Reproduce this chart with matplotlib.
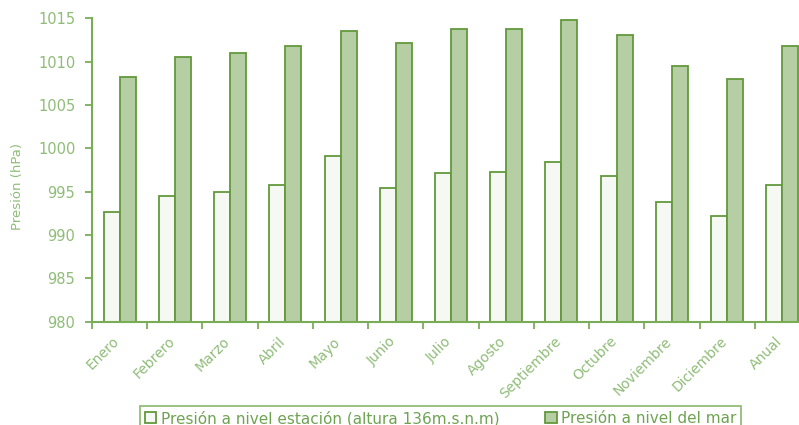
import numpy as np
import matplotlib.pyplot as plt
from matplotlib.transforms import ScaledTranslation

# monthly pressure values (hPa)
meses = ['Enero', 'Febrero', 'Marzo', 'Abril', 'Mayo', 'Junio', 'Julio',
         'Agosto', 'Septiembre', 'Octubre', 'Noviembre', 'Diciembre', 'Anual']
estacion = [992.6, 994.5, 995.0, 995.75, 999.1, 995.4, 997.1,
            997.25, 998.4, 996.8, 993.8, 992.2, 995.75]
mar = [1008.2, 1010.5, 1010.95, 1011.8, 1013.5, 1012.1, 1013.8,
       1013.8, 1014.8, 1013.1, 1009.5, 1008.0, 1011.8]
y_ticks = [980, 985, 990, 995, 1000, 1005, 1010, 1015]

edge = '#62983c'
axis_col = '#7aac58'
txt_col = '#8fbc78'
fill_mar = '#b5cea3'
fill_est = '#f6f9f3'

plt.rcParams['font.family'] = 'DejaVu Sans'

fig = plt.figure(figsize=(7.99, 4.25), dpi=100)
ax = fig.add_axes([92/799, 1 - 321.7/425, 718/799, 303.4/425])

x = np.arange(len(meses))
w = 0.29
ax.bar(x - w/2, np.array(estacion) - 980, w, bottom=980, color=fill_est,
       edgecolor=edge, linewidth=1.3, label='Presión a nivel estación (altura 136m.s.n.m)')
ax.bar(x + w/2, np.array(mar) - 980, w, bottom=980, color=fill_mar,
       edgecolor=edge, linewidth=1.3, label='Presión a nivel del mar')

ax.set_xlim(-0.5, len(meses) - 0.5)
ax.set_ylim(980, 1015)
ax.set_yticks(y_ticks)
ax.set_xticks(x)
ax.set_xticklabels(meses, rotation=45, ha='right', rotation_mode='anchor')
ax.set_xticks(np.arange(len(meses)) - 0.5, minor=True)
ax.tick_params(axis='x', which='major', length=0, pad=9, labelsize=10, labelcolor=txt_col)
ax.tick_params(axis='x', which='minor', length=5, width=1.3, color=axis_col, direction='out')
ax.tick_params(axis='y', length=5, width=1.3, color=axis_col, labelsize=10.5,
               labelcolor=txt_col, pad=7)

# nudge the rotated month labels a little to the left, as in the original
shift = ScaledTranslation(-7/100, 0, fig.dpi_scale_trans)
for lab in ax.get_xticklabels():
    lab.set_transform(lab.get_transform() + shift)

for s in ['top', 'right']:
    ax.spines[s].set_visible(False)
for s in ['left', 'bottom']:
    ax.spines[s].set_color(axis_col)
    ax.spines[s].set_linewidth(1.5)

ax.set_ylabel('Presión (hPa)', color=txt_col, fontsize=9.5)
ax.yaxis.set_label_coords(-0.095, 0.444)

leg = fig.legend(loc='upper left', bbox_to_anchor=(140/799, 1 - 406/425), ncol=2,
                 frameon=True, fancybox=False, fontsize=11, handlelength=0.75,
                 handleheight=0.75, handletextpad=0.3, columnspacing=3.0,
                 borderpad=0.3, borderaxespad=0)
leg.get_frame().set_edgecolor(axis_col)
leg.get_frame().set_linewidth(1.3)
for t in leg.get_texts():
    t.set_color('#6ea352')

fig.savefig('out.png', dpi=100)
